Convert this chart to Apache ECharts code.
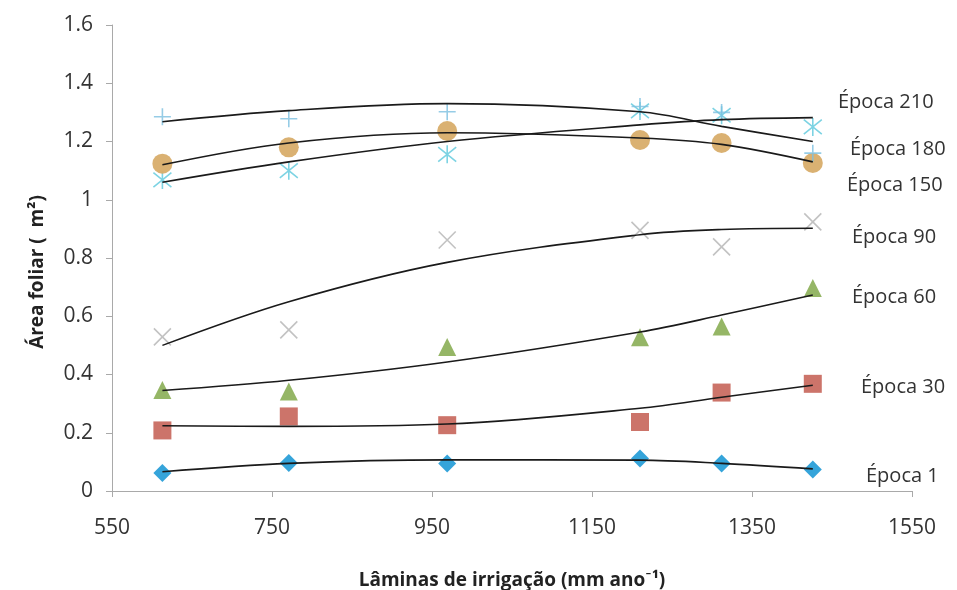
<!DOCTYPE html>
<html>
<head>
<meta charset="utf-8">
<script src="https://cdn.jsdelivr.net/npm/echarts@6/dist/echarts.min.js"></script>
<style>
html,body{margin:0;padding:0;background:#fff;}
#chart{width:957px;height:590px;}
</style>
</head>
<body>
<div id="chart"></div>
<script>
// Irrigation depths (mm ano-1)
const xValues = [613, 771, 969, 1210, 1312, 1426];
const xTicks = [550, 750, 950, 1150, 1350, 1550];
const yTicks = [0, 0.2, 0.4, 0.6, 0.8, 1, 1.2, 1.4, 1.6];

// Observed leaf area (m2)
const epoca1   = [0.062, 0.096, 0.094, 0.112, 0.094, 0.074];
const epoca30  = [0.208, 0.256, 0.226, 0.237, 0.338, 0.368];
const epoca60  = [0.347, 0.342, 0.494, 0.528, 0.565, 0.697];
const epoca90  = [0.529, 0.553, 0.862, 0.895, 0.838, 0.924];
const epoca150 = [1.068, 1.100, 1.156, 1.305, 1.290, 1.250];
const epoca180 = [1.124, 1.180, 1.236, 1.205, 1.195, 1.126];
const epoca210 = [1.285, 1.278, 1.302, 1.320, 1.300, 1.160];

// Polynomial trend lines at the same depths
const trend1   = [0.066, 0.095, 0.107, 0.106, 0.095, 0.076];
const trend30  = [0.224, 0.222, 0.230, 0.284, 0.322, 0.363];
const trend60  = [0.345, 0.380, 0.443, 0.546, 0.604, 0.673];
const trend90  = [0.500, 0.650, 0.785, 0.880, 0.898, 0.902];
const trend150 = [1.060, 1.130, 1.200, 1.257, 1.275, 1.282];
const trend180 = [1.120, 1.195, 1.230, 1.212, 1.190, 1.130];
const trend210 = [1.268, 1.306, 1.330, 1.302, 1.252, 1.200];

const seriesNames = ['Época 1','Época 30','Época 60','Época 90','Época 150','Época 180','Época 210'];
const xTitle = 'Lâminas de irrigação (mm ano⁻¹)';
const yTitle = 'Área foliar (  m²)';

const pairs = arr => xValues.map((x, i) => [x, arr[i]]);

const xMark = 'path://M0,0L10,10M10,0L0,10';
const starMark = 'path://M0,1L10,9M10,1L0,9M5,0L5,10';
const plusMark = 'path://M5,0L5,10M0,5L10,5';

const chart = echarts.init(document.getElementById('chart'), null, {renderer: 'canvas'});

function scatter(name, data, symbol, size, color, stroke) {
  return {
    name: name, type: 'scatter', data: pairs(data), symbol: symbol, symbolSize: size, z: 3,
    itemStyle: stroke ? {color: 'rgba(0,0,0,0)', borderColor: color, borderWidth: 1.6} : {color: color, opacity: 0.95}
  };
}
function trend(data) {
  return {
    type: 'line', data: pairs(data), smooth: 0.35, showSymbol: false, symbol: 'none', z: 4,
    lineStyle: {color: '#1a1a1a', width: 1.6}, silent: true
  };
}

const labelFont = '"Open Sans", Lato, sans-serif';
const endLabels = [
  {text: 'Época 210', x: 838, y: 103},
  {text: 'Época 180', x: 850, y: 150},
  {text: 'Época 150', x: 847, y: 186},
  {text: 'Época 90',  x: 852, y: 238},
  {text: 'Época 60',  x: 852, y: 298},
  {text: 'Época 30',  x: 861, y: 388},
  {text: 'Época 1',   x: 866, y: 477}
];

const graphics = endLabels.map(l => ({
  type: 'text', left: l.x, top: l.y - 11, z: 10,
  style: {text: l.text, fontFamily: labelFont, fontSize: 20, fill: '#333'}
}));
graphics.push({
  type: 'text', x: 38, y: 272, rotation: Math.PI / 2, z: 10,
  style: {text: yTitle, fontFamily: labelFont, fontSize: 19, fontWeight: 'bold', fill: '#222',
    align: 'center', verticalAlign: 'middle'}
});

chart.setOption({
  animation: false,
  backgroundColor: '#ffffff',
  grid: {left: 112, right: 45, top: 25, bottom: 99, containLabel: false, outerBoundsMode: 'none'},
  xAxis: {
    type: 'value', min: 550, max: 1550, interval: 200,
    name: xTitle, nameLocation: 'middle', nameGap: 80,
    nameTextStyle: {fontFamily: labelFont, fontSize: 19, fontWeight: 'bold', color: '#222'},
    axisLine: {show: true, lineStyle: {color: '#a9a9a9', width: 1}},
    axisTick: {show: true, length: 6, lineStyle: {color: '#a9a9a9'}, customValues: xTicks},
    axisLabel: {fontFamily: labelFont, fontSize: 21, color: '#333', margin: 27, customValues: xTicks,
      formatter: v => String(v)},
    splitLine: {show: false}
  },
  yAxis: {
    type: 'value', min: 0, max: 1.6, interval: 0.2,
    axisLine: {show: true, lineStyle: {color: '#a9a9a9', width: 1}},
    axisTick: {show: true, length: 6, lineStyle: {color: '#a9a9a9'}},
    axisLabel: {fontFamily: labelFont, fontSize: 21, color: '#333', margin: 19,
      formatter: v => String(Math.round(v * 10) / 10)},
    splitLine: {show: false}
  },
  graphic: graphics,
  series: [
    scatter(seriesNames[0], epoca1, 'diamond', 18, '#2a9fd8'),
    scatter(seriesNames[1], epoca30, 'rect', 18, '#c96d62'),
    scatter(seriesNames[2], epoca60, 'triangle', 18, '#8fb25e'),
    scatter(seriesNames[3], epoca90, xMark, 17, '#b3b3b3', true),
    scatter(seriesNames[4], epoca150, starMark, 18, '#5cc8dc', true),
    scatter(seriesNames[5], epoca180, 'circle', 20, '#d8ad6a'),
    scatter(seriesNames[6], epoca210, plusMark, 17, '#7cbfe0', true),
    trend(trend1), trend(trend30), trend(trend60), trend(trend90),
    trend(trend150), trend(trend180), trend(trend210)
  ]
});
</script>
</body>
</html>
